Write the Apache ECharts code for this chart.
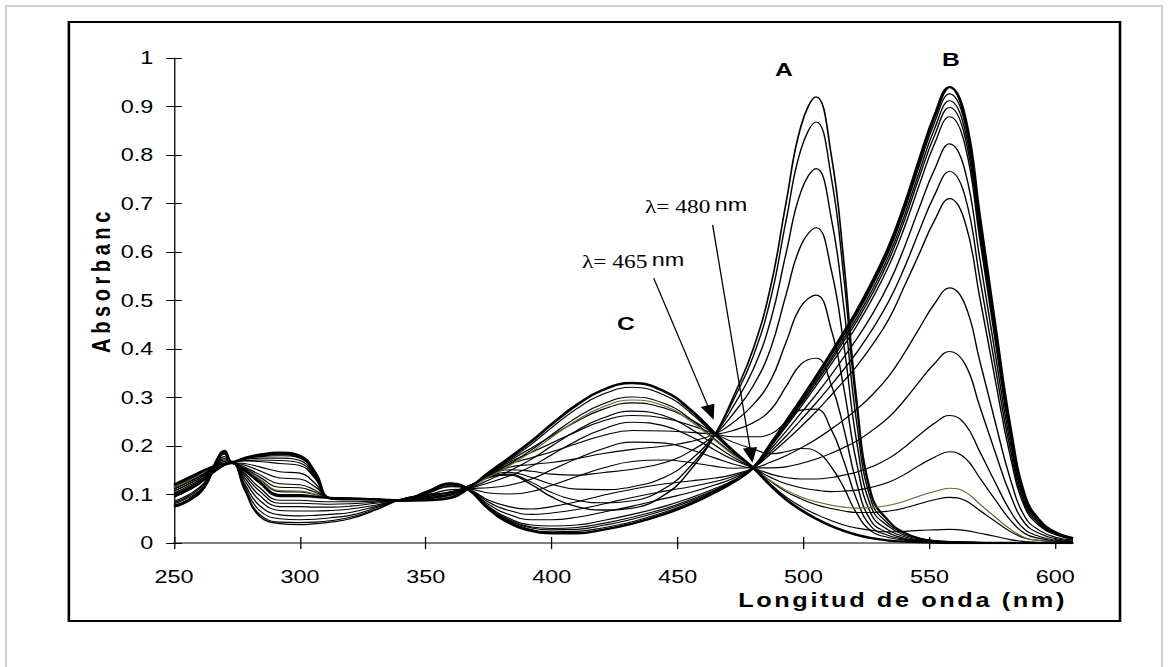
<!DOCTYPE html>
<html>
<head>
<meta charset="utf-8">
<title>Espectros de absorción</title>
<script src="https://cdn.jsdelivr.net/npm/echarts@6/dist/echarts.min.js"></script>
<style>
  html, body { margin: 0; padding: 0; background: #fff; }
  #frame {
    position: absolute; left: 5px; top: 5px; width: 1158px; height: 700px;
    border: 2px solid #d6d3c6; box-sizing: border-box;
  }
  #stage {
    position: absolute; left: 0; top: 0; width: 902px; height: 667px;
    transform: scaleX(1.29933); transform-origin: 0 0;
  }
  #box {
    position: absolute; left: 52.3px; top: 21px; width: 810.4px; height: 601px;
    border: 2px solid #000; box-sizing: border-box;
  }
  #chart { position: absolute; left: 0; top: 0; width: 902px; height: 667px; }
  /* titulos de ejes espaciados */
  #chart text[style*="bold 20px"] { letter-spacing: 4.6px; }
  #chart text[style*="bold 19.5px"] { letter-spacing: 2px; }
</style>
</head>
<body>
<div id="frame"></div>
<div id="stage">
  <div id="box"></div>
  <div id="chart"></div>
</div>
<script>
(function () {
  // the picture is stretched sideways, so the chart is drawn narrow and scaled
  var SX = 1172 / 902;

  var wavelengths = [250, 256, 262, 267, 270, 273, 278, 284, 292, 300, 306, 312, 320, 330, 340, 350, 360, 367, 375, 383,
    392, 400, 410, 420, 432, 445, 455, 465, 472, 480, 487, 493, 499, 505, 511, 516, 521, 527, 534, 540,
    546, 552, 558, 564, 570, 576, 582, 588, 594, 600, 607];
  var xTickValues = [250, 300, 350, 400, 450, 500, 550, 600];

  // especie C (inicial)
  var curveC = [.120, .135, .150, .160, .163, .165, .150, .125, .097, .097, .095, .093, .092, .090, .087, .088, .093, .113, .145, .175,
    .210, .245, .285, .315, .330, .312, .275, .225, .190, .155, .118, .090, .068, .050, .035, .025, .017, .010, .005, .003,
    .002, .001, 0, 0, 0, 0, 0, 0, 0, 0, 0];
  // especie A
  var curveA = [.095, .110, .130, .150, .160, .165, .110, .055, .040, .038, .040, .043, .050, .068, .090, .100, .105, .118, .135, .140,
    .120, .095, .075, .068, .072, .100, .150, .225, .300, .400, .530, .700, .860, .920, .800, .580, .300, .100, .045, .022,
    .010, .005, .003, .002, .001, 0, 0, 0, 0, 0, 0];
  // especie B
  var curveB = [.075, .088, .115, .170, .190, .167, .175, .182, .186, .180, .145, .092, .090, .090, .088, .105, .123, .110, .070, .042,
    .025, .020, .020, .027, .040, .060, .080, .105, .125, .155, .205, .250, .296, .343, .392, .434, .477, .535, .612, .695,
    .790, .880, .940, .880, .670, .450, .240, .095, .045, .022, .010];

  // serie C -> B
  var cb985 = [.076, .089, .116, .170, .190, .167, .175, .181, .185, .179, .144, .092, .090, .090, .088, .105, .123, .110, .071, .044,
    .028, .023, .024, .031, .044, .064, .083, .107, .126, .155, .204, .248, .293, .339, .387, .428, .470, .527, .603, .685,
    .778, .867, .926, .867, .660, .443, .236, .094, .044, .022, .010];
  var cb970 = [.076, .089, .116, .170, .189, .167, .174, .180, .183, .178, .144, .092, .090, .090, .088, .105, .122, .110, .072, .046,
    .031, .027, .028, .036, .049, .068, .086, .109, .127, .155, .202, .245, .289, .334, .381, .422, .463, .519, .594, .674,
    .766, .854, .912, .854, .650, .437, .233, .092, .044, .021, .010];
  var cb955 = [.077, .090, .117, .170, .189, .167, .174, .179, .182, .176, .143, .092, .090, .090, .088, .104, .122, .110, .073, .048,
    .033, .030, .032, .040, .053, .071, .089, .110, .128, .155, .201, .243, .286, .330, .376, .416, .456, .511, .585, .664,
    .755, .840, .898, .840, .640, .430, .229, .091, .043, .021, .010];
  var cb935 = [.078, .091, .117, .169, .188, .167, .173, .178, .180, .175, .142, .092, .090, .090, .088, .104, .121, .110, .075, .051,
    .037, .035, .037, .046, .059, .076, .093, .113, .129, .155, .199, .240, .281, .324, .369, .407, .447, .501, .573, .650,
    .739, .823, .879, .823, .626, .421, .224, .089, .042, .021, .009];
  var cb875 = [.081, .094, .119, .169, .187, .167, .172, .175, .175, .170, .139, .092, .090, .090, .088, .103, .119, .110, .079, .059,
    .048, .048, .053, .063, .076, .092, .104, .120, .133, .155, .194, .230, .268, .306, .347, .383, .420, .469, .536, .609,
    .692, .770, .823, .770, .586, .394, .210, .083, .039, .019, .009];
  var cb815 = [.083, .097, .122, .168, .185, .167, .170, .171, .170, .165, .136, .092, .090, .090, .088, .102, .117, .111, .084, .067,
    .059, .062, .069, .080, .094, .107, .116, .127, .137, .155, .189, .220, .254, .289, .326, .358, .392, .438, .500, .567,
    .644, .717, .766, .717, .546, .367, .196, .077, .037, .018, .008];
  var cb755 = [.086, .100, .124, .168, .183, .167, .169, .168, .164, .160, .133, .092, .090, .090, .088, .101, .116, .111, .088, .075,
    .070, .075, .085, .098, .111, .122, .128, .134, .141, .155, .184, .211, .240, .271, .305, .334, .364, .406, .463, .529,
    .597, .665, .710, .664, .506, .340, .181, .072, .034, .017, .008];
  var cb560 = [.095, .109, .130, .166, .178, .166, .164, .157, .147, .144, .123, .092, .091, .090, .088, .098, .110, .111, .103, .101,
    .106, .119, .137, .154, .168, .171, .166, .158, .154, .155, .167, .180, .196, .214, .235, .254, .275, .304, .345, .391,
    .443, .493, .526, .493, .375, .252, .134, .053, .025, .012, .006];
  var cb420 = [.101, .115, .135, .164, .174, .166, .161, .149, .134, .132, .116, .093, .091, .090, .087, .095, .106, .112, .114, .119,
    .132, .151, .174, .194, .208, .206, .193, .175, .163, .155, .155, .157, .164, .173, .185, .197, .210, .231, .260, .294,
    .333, .370, .395, .370, .281, .189, .101, .040, .019, .009, .004];
  var cb280 = [.107, .122, .140, .163, .171, .166, .157, .141, .122, .120, .109, .093, .091, .090, .087, .093, .101, .112, .124, .138,
    .158, .182, .211, .234, .249, .241, .220, .191, .172, .155, .142, .135, .132, .132, .135, .140, .146, .157, .175, .197,
    .223, .247, .263, .246, .188, .126, .067, .027, .013, .006, .003];
  var cb200 = [.111, .126, .143, .162, .168, .165, .155, .136, .115, .114, .105, .093, .092, .090, .087, .091, .099, .112, .130, .148,
    .173, .200, .232, .257, .272, .262, .236, .201, .177, .155, .135, .122, .114, .109, .106, .107, .109, .115, .126, .141,
    .160, .177, .188, .176, .134, .090, .048, .019, .009, .004, .002];
  var cb120 = [.115, .129, .146, .161, .166, .165, .153, .132, .108, .107, .101, .093, .092, .090, .087, .090, .097, .113, .136, .159,
    .188, .218, .253, .280, .295, .282, .252, .211, .182, .155, .128, .109, .095, .085, .078, .074, .072, .073, .078, .086,
    .097, .106, .113, .106, .080, .054, .029, .011, .005, .003, .001];
  var cb100 = [.116, .130, .147, .161, .166, .165, .153, .131, .106, .105, .100, .093, .092, .090, .087, .090, .096, .113, .138, .162,
    .192, .223, .259, .286, .301, .287, .256, .213, .184, .155, .127, .106, .091, .079, .071, .066, .063, .063, .066, .072,
    .081, .089, .094, .088, .067, .045, .024, .010, .005, .002, .001];
  var cb030 = [.119, .134, .149, .160, .164, .165, .151, .127, .100, .100, .097, .093, .092, .090, .087, .089, .094, .113, .143, .171,
    .204, .238, .277, .306, .321, .304, .269, .221, .188, .155, .121, .095, .075, .059, .046, .037, .031, .026, .023, .024,
    .026, .027, .028, .026, .020, .014, .007, .003, .001, .001, 0];

  // serie C -> A
  var ca940 = [.097, .112, .131, .151, .160, .165, .112, .059, .043, .042, .043, .046, .053, .069, .090, .099, .104, .118, .136, .142,
    .125, .104, .088, .083, .087, .113, .158, .225, .293, .385, .505, .663, .812, .868, .754, .547, .283, .095, .043, .021,
    .010, .005, .003, .002, .001, 0, 0, 0, 0, 0, 0];
  var ca830 = [.099, .114, .133, .152, .161, .165, .117, .067, .050, .048, .049, .052, .057, .072, .089, .098, .103, .117, .137, .146,
    .135, .121, .111, .110, .116, .136, .171, .225, .281, .358, .460, .596, .725, .772, .670, .486, .252, .085, .038, .019,
    .009, .004, .002, .002, .001, 0, 0, 0, 0, 0, 0];
  var ca690 = [.103, .118, .136, .153, .161, .165, .122, .077, .058, .056, .057, .059, .063, .075, .089, .096, .101, .116, .138, .151,
    .148, .142, .140, .145, .152, .166, .189, .225, .266, .324, .402, .511, .614, .650, .563, .408, .212, .072, .033, .016,
    .008, .004, .002, .001, .001, 0, 0, 0, 0, 0, 0];
  var ca530 = [.107, .122, .139, .155, .161, .165, .129, .088, .067, .066, .066, .067, .070, .078, .089, .094, .099, .116, .140, .156,
    .162, .166, .174, .184, .193, .200, .209, .225, .248, .285, .336, .413, .488, .511, .440, .319, .167, .058, .026, .013,
    .006, .003, .002, .001, .001, 0, 0, 0, 0, 0, 0];
  var ca380 = [.111, .126, .142, .156, .162, .165, .135, .098, .075, .075, .074, .074, .076, .082, .088, .093, .098, .115, .141, .162,
    .176, .188, .205, .221, .232, .231, .228, .225, .232, .248, .275, .322, .369, .381, .326, .236, .125, .044, .020, .010,
    .005, .002, .001, .001, 0, 0, 0, 0, 0, 0, 0];
  var ca260 = [.114, .129, .145, .157, .162, .165, .140, .107, .082, .082, .081, .080, .081, .084, .088, .091, .096, .114, .142, .166,
    .187, .206, .230, .251, .263, .257, .243, .225, .219, .219, .225, .249, .274, .276, .234, .169, .091, .033, .015, .008,
    .004, .002, .001, .001, 0, 0, 0, 0, 0, 0, 0];
  var ca160 = [.116, .131, .147, .158, .163, .165, .144, .114, .088, .088, .086, .085, .085, .086, .087, .090, .095, .114, .143, .169,
    .196, .221, .251, .275, .289, .278, .255, .225, .208, .194, .184, .188, .195, .189, .157, .114, .062, .024, .011, .006,
    .003, .002, 0, 0, 0, 0, 0, 0, 0, 0, 0];

  var OLIVE = '#6b6a2e';
  var FONT = '"Liberation Sans", Arial, sans-serif';
  var SERIF = '"Liberation Serif", "Times New Roman", serif';

  function px(x) { return x / SX; }

  function curve(name, values, color, width) {
    return {
      name: name,
      type: 'line',
      data: wavelengths.map(function (w, i) { return [w, values[i]]; }),
      smooth: 0.45,
      symbol: 'none',
      silent: true,
      lineStyle: { color: color, width: width },
      z: 2,
    };
  }

  var series = [
    curve('C→A 0.16', ca160, '#000', 1.1),
    curve('C→A 0.26', ca260, '#000', 1.1),
    curve('C→A 0.38', ca380, '#000', 1.1),
    curve('C→A 0.53', ca530, '#000', 1.1),
    curve('C→A 0.69', ca690, '#000', 1.1),
    curve('C→A 0.83', ca830, '#000', 1.1),
    curve('C→A 0.94', ca940, '#000', 1.1),
    curve('A', curveA, '#000', 1.3),
    curve('C→B 0.03', cb030, '#000', 1.1),
    curve('C→B 0.10', cb100, '#000', 1.1),
    curve('C→B 0.12', cb120, OLIVE, 1.1),
    curve('C→B 0.20', cb200, '#000', 1.1),
    curve('C→B 0.28', cb280, '#000', 1.1),
    curve('C→B 0.42', cb420, '#000', 1.1),
    curve('C→B 0.56', cb560, '#000', 1.1),
    curve('C→B 0.755', cb755, '#000', 1.1),
    curve('C→B 0.815', cb815, '#000', 1.1),
    curve('C→B 0.875', cb875, '#000', 1.1),
    curve('C→B 0.935', cb935, '#000', 1.1),
    curve('C→B 0.955', cb955, '#000', 1.1),
    curve('C→B 0.97', cb970, '#000', 1.1),
    curve('C→B 0.985', cb985, '#000', 1.1),
    curve('B', curveB, '#000', 2.4),
    curve('C', curveC, '#000', 2.4),
  ];

  // flechas de los puntos isosbesticos
  series.push({
    type: 'line',
    data: [],
    silent: true,
    markLine: {
      silent: true,
      animation: false,
      symbol: ['none', 'triangle'],
      symbolSize: [11, 15],
      label: { show: false },
      lineStyle: { color: '#000', width: 1, type: 'solid' },
      data: [
        [{ coord: [440.5, 0.546] }, { coord: [463.1, 0.269] }],
        [{ coord: [463.9, 0.656] }, { coord: [479.2, 0.181] }],
      ],
    },
  });

  var xBase = {
    type: 'value',
    min: 250,
    max: 607,
    position: 'bottom',
    splitLine: { show: false },
  };
  var yBase = {
    type: 'value',
    min: 0,
    max: 1,
    interval: 0.1,
    position: 'left',
    splitLine: { show: false },
  };

  function lambdaLabel(x, y, value) {
    return {
      type: 'text', x: px(x), y: y,
      style: {
        text: '{s|λ= ' + value + '} {n|nm}',
        verticalAlign: 'middle',
        rich: {
          s: { fontFamily: SERIF, fontSize: 18, fill: '#000' },
          n: { fontFamily: FONT, fontSize: 18, fill: '#000', padding: [0, 0, 4, 0] },
        },
      },
    };
  }

  var option = {
    backgroundColor: 'transparent',
    animation: false,
    grid: {
      left: px(174),
      width: px(1073 - 174),
      top: 58,
      height: 485,
      containLabel: false,
    },
    xAxis: [
      Object.assign({}, xBase, {
        axisLine: { show: true, onZero: false, lineStyle: { color: '#808080', width: 2 } },
        axisTick: { show: true, customValues: xTickValues, length: 6, lineStyle: { color: '#000', width: 1 } },
        axisLabel: { customValues: xTickValues, margin: 25, fontSize: 18, color: '#000', fontFamily: FONT },
      }),
      Object.assign({}, xBase, {
        axisLine: { show: false },
        axisTick: { show: true, inside: true, customValues: xTickValues, length: 6, lineStyle: { color: '#000', width: 1 } },
        axisLabel: { show: false },
      }),
    ],
    yAxis: [
      Object.assign({}, yBase, {
        axisLine: { show: true, onZero: false, lineStyle: { color: '#000', width: 1 } },
        axisTick: { show: true, length: 6, lineStyle: { color: '#000', width: 1 } },
        axisLabel: { margin: 16, fontSize: 18, color: '#000', fontFamily: FONT },
      }),
      Object.assign({}, yBase, {
        axisLine: { show: false },
        axisTick: { show: true, inside: true, length: 6, lineStyle: { color: '#000', width: 1 } },
        axisLabel: { show: false },
      }),
    ],
    graphic: [
      {
        type: 'text', x: px(101), y: 280, rotation: Math.PI / 2,
        style: { text: 'Absorbanc', font: 'bold 20px ' + FONT, fill: '#000', align: 'center', verticalAlign: 'middle' },
      },
      {
        type: 'text', x: px(1067), y: 601,
        style: { text: 'Longitud de onda (nm)', font: 'bold 19.5px ' + FONT, fill: '#000', align: 'right', verticalAlign: 'middle' },
      },
      {
        type: 'text', x: px(784), y: 70,
        style: { text: 'A', font: 'bold 19px ' + FONT, fill: '#000', align: 'center', verticalAlign: 'middle' },
      },
      {
        type: 'text', x: px(951), y: 60,
        style: { text: 'B', font: 'bold 19px ' + FONT, fill: '#000', align: 'center', verticalAlign: 'middle' },
      },
      {
        type: 'text', x: px(626), y: 324,
        style: { text: 'C', font: 'bold 19px ' + FONT, fill: '#000', align: 'center', verticalAlign: 'middle' },
      },
      lambdaLabel(645, 207, 480),
      lambdaLabel(582, 262, 465),
    ],
    series: series,
  };

  var chart = echarts.init(document.getElementById('chart'), null, { renderer: 'svg' });
  chart.setOption(option);
})();
</script>
</body>
</html>
